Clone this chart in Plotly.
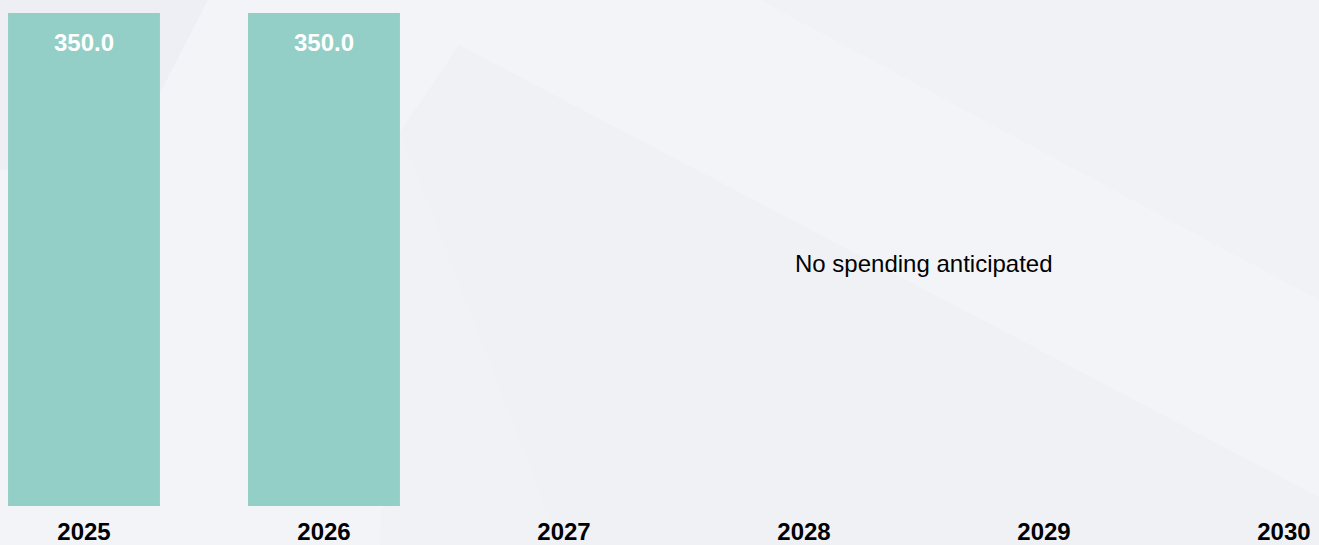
import plotly.graph_objects as go

years = ["2025", "2026", "2027", "2028", "2029", "2030"]
spending = [350.0, 350.0, None, None, None, None]
bar_labels = ["350.0", "350.0", "", "", "", ""]
note_text = "No spending anticipated"

FONT = "Liberation Sans, Arial, Helvetica, sans-serif"
W, H, B = 1319, 545, 39
PH = H - B


def P(x, y):
    # pixel -> paper coordinates (background decoration only)
    return f"{x / W:.4f} {(PH - y) / PH:.4f}"


fig = go.Figure()
fig.add_trace(go.Bar(
    x=years, y=spending,
    marker=dict(color="#93cfc6", line=dict(width=0)),
    width=0.633,
    hoverinfo="skip",
))

# subtle background facets
bg = [
    ([(0, 0), (208, 0), (120, 170), (0, 170)], "rgba(226,229,234,0.30)"),
    ([(459, 45), (1319, 497), (1319, 545), (560, 545), (400, 132)], "rgba(225,228,233,0.20)"),
    ([(400, 132), (560, 545), (380, 545)], "rgba(228,231,236,0.12)"),
    ([(760, 0), (1319, 0), (1319, 300)], "rgba(228,230,235,0.10)"),
]
shapes = []
for pts, col in bg:
    path = "M " + " L ".join(P(x, y) for x, y in pts) + " Z"
    shapes.append(dict(type="path", xref="paper", yref="paper", layer="below",
                       path=path, fillcolor=col, line=dict(width=0)))

annotations = []
for i, (v, lab) in enumerate(zip(spending, bar_labels)):
    if v is not None and lab:
        annotations.append(dict(x=i, y=v, xref="x", yref="y", text=lab, showarrow=False,
                                yanchor="middle", yshift=-30,
                                font=dict(family=FONT, size=24, color="white", weight="bold")))
annotations.append(dict(x=3.5, y=(PH - 263) / PH, xref="x", yref="paper", text=note_text,
                        showarrow=False, font=dict(family=FONT, size=24, color="black")))

fig.update_layout(
    width=W, height=H,
    margin=dict(l=0, r=0, t=0, b=B, autoexpand=False),
    paper_bgcolor="#f3f4f8",
    plot_bgcolor="rgba(0,0,0,0)",
    showlegend=False,
    shapes=shapes,
    annotations=annotations,
    xaxis=dict(type="category", range=[-0.35, 5.146], showgrid=False, zeroline=False,
               showline=False, ticks="", ticklabelstandoff=9, automargin=False,
               tickfont=dict(family=FONT, size=24, color="black", weight="bold")),
    yaxis=dict(range=[0, 359.2], visible=False, automargin=False),
)

fig.write_html("out.html")
